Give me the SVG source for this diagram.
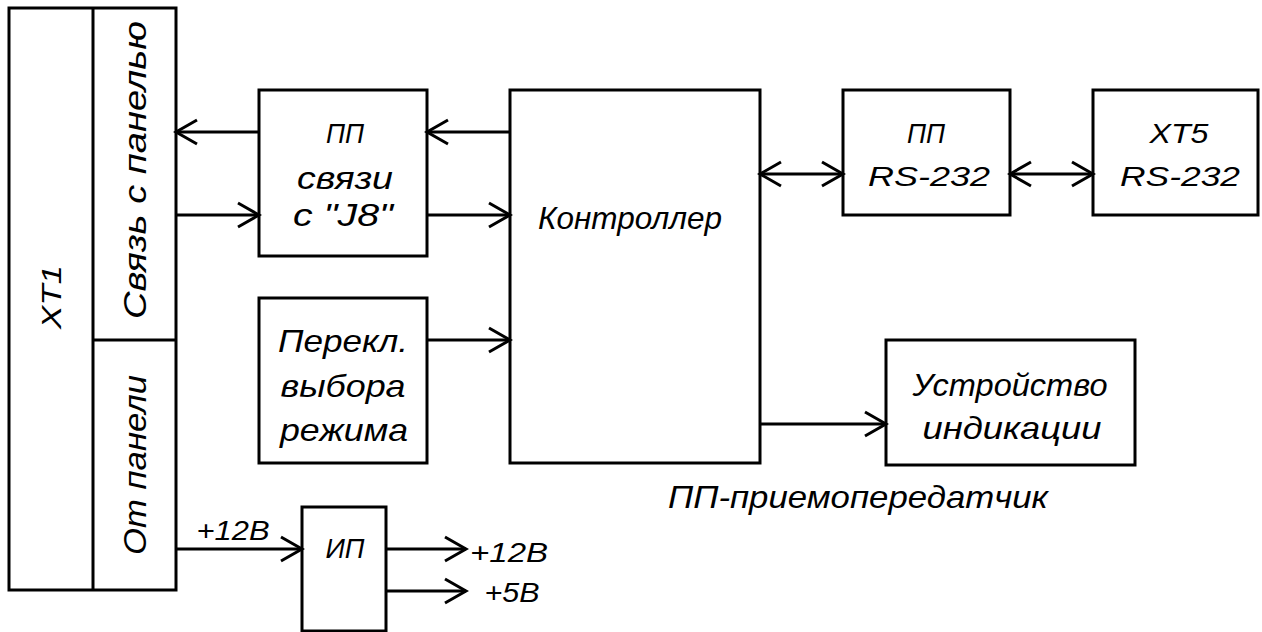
<svg xmlns="http://www.w3.org/2000/svg" width="1262" height="632" viewBox="0 0 1262 632">
<style>
.b{fill:#fff;stroke:#000;stroke-width:3}
.l{fill:none;stroke:#000;stroke-width:3}
text{font-family:"Liberation Sans",Arial,sans-serif;font-style:italic;font-size:28px;fill:#000;text-anchor:middle;dominant-baseline:central}
.lc{font-size:32px}
</style>
<defs>
<marker id="a" viewBox="-24 -14 27 28" refX="0" refY="0" markerWidth="27" markerHeight="28" markerUnits="userSpaceOnUse" orient="auto-start-reverse">
<path d="M-21,-12 L0,0 L-21,12" fill="none" stroke="#000" stroke-width="3"/>
</marker>
</defs>
<rect width="1262" height="632" fill="#fff"/>
<g id="xt1">
<rect class="b" x="9" y="8" width="167" height="582"/>
<line class="l" x1="93" y1="8" x2="93" y2="590"/>
<line class="l" x1="93" y1="340" x2="176" y2="340"/>
<text transform="translate(51,297) rotate(-90)" font-size="31" font-style="normal" textLength="64" lengthAdjust="spacingAndGlyphs">XT1</text>
<text class="lc" transform="translate(135,170) rotate(-90)" textLength="298" lengthAdjust="spacingAndGlyphs">Связь с панелью</text>
<text class="lc" transform="translate(135,465) rotate(-90)" textLength="180" lengthAdjust="spacingAndGlyphs">От панели</text>
</g>
<g id="pp-j8">
<rect class="b" x="259" y="90" width="168" height="166"/>
<text x="345" y="133" textLength="38" lengthAdjust="spacingAndGlyphs">ПП</text>
<text class="lc" x="345" y="178" textLength="96" lengthAdjust="spacingAndGlyphs">связи</text>
<text class="lc" x="343" y="215" textLength="100" lengthAdjust="spacingAndGlyphs">с  "J8"</text>
</g>
<g id="controller">
<rect class="b" x="510" y="90" width="250" height="373"/>
<text class="lc" x="630" y="218" textLength="184" lengthAdjust="spacingAndGlyphs">Контроллер</text>
</g>
<g id="pp-rs232">
<rect class="b" x="843" y="90" width="167" height="125"/>
<text x="926" y="133" textLength="38" lengthAdjust="spacingAndGlyphs">ПП</text>
<text x="929" y="176" font-size="37" textLength="122" lengthAdjust="spacingAndGlyphs">RS-232</text>
</g>
<g id="xt5">
<rect class="b" x="1093" y="90" width="165" height="125"/>
<text x="1179" y="133" font-size="34" textLength="59" lengthAdjust="spacingAndGlyphs">XT5</text>
<text x="1180" y="176" font-size="37" textLength="120" lengthAdjust="spacingAndGlyphs">RS-232</text>
</g>
<g id="switch">
<rect class="b" x="259" y="298" width="168" height="165"/>
<text class="lc" x="343" y="341" textLength="130" lengthAdjust="spacingAndGlyphs">Перекл.</text>
<text class="lc" x="343" y="386" textLength="125" lengthAdjust="spacingAndGlyphs">выбора</text>
<text class="lc" x="344" y="430" textLength="128" lengthAdjust="spacingAndGlyphs">режима</text>
</g>
<g id="indicator">
<rect class="b" x="886" y="340" width="249" height="125"/>
<text class="lc" x="1010" y="385" textLength="195" lengthAdjust="spacingAndGlyphs">Устройство</text>
<text class="lc" x="1012" y="428" textLength="179" lengthAdjust="spacingAndGlyphs">индикации</text>
</g>
<g id="psu">
<rect class="b" x="302" y="507" width="84" height="124"/>
<text x="345" y="548" textLength="39" lengthAdjust="spacingAndGlyphs">ИП</text>
</g>
<g id="connectors">
<line class="l" x1="259" y1="132" x2="176" y2="132" marker-end="url(#a)"/>
<line class="l" x1="176" y1="215" x2="259" y2="215" marker-end="url(#a)"/>
<line class="l" x1="510" y1="132" x2="427" y2="132" marker-end="url(#a)"/>
<line class="l" x1="427" y1="215" x2="510" y2="215" marker-end="url(#a)"/>
<line class="l" x1="427" y1="340" x2="510" y2="340" marker-end="url(#a)"/>
<line class="l" x1="760" y1="174" x2="843" y2="174" marker-start="url(#a)" marker-end="url(#a)"/>
<line class="l" x1="1010" y1="174" x2="1093" y2="174" marker-start="url(#a)" marker-end="url(#a)"/>
<line class="l" x1="760" y1="424" x2="886" y2="424" marker-end="url(#a)"/>
<line class="l" x1="176" y1="549" x2="302" y2="549" marker-end="url(#a)"/>
<line class="l" x1="386" y1="549" x2="466" y2="549" marker-end="url(#a)"/>
<line class="l" x1="386" y1="591" x2="466" y2="591" marker-end="url(#a)"/>
</g>
<g id="labels">
<text x="233" y="530" font-size="32" textLength="73" lengthAdjust="spacingAndGlyphs">+12В</text>
<text x="509" y="552" font-size="32" textLength="78" lengthAdjust="spacingAndGlyphs">+12В</text>
<text x="512" y="592" font-size="32" textLength="55" lengthAdjust="spacingAndGlyphs">+5В</text>
<text class="lc" x="858" y="497" textLength="380" lengthAdjust="spacingAndGlyphs">ПП-приемопередатчик</text>
</g>
</svg>
